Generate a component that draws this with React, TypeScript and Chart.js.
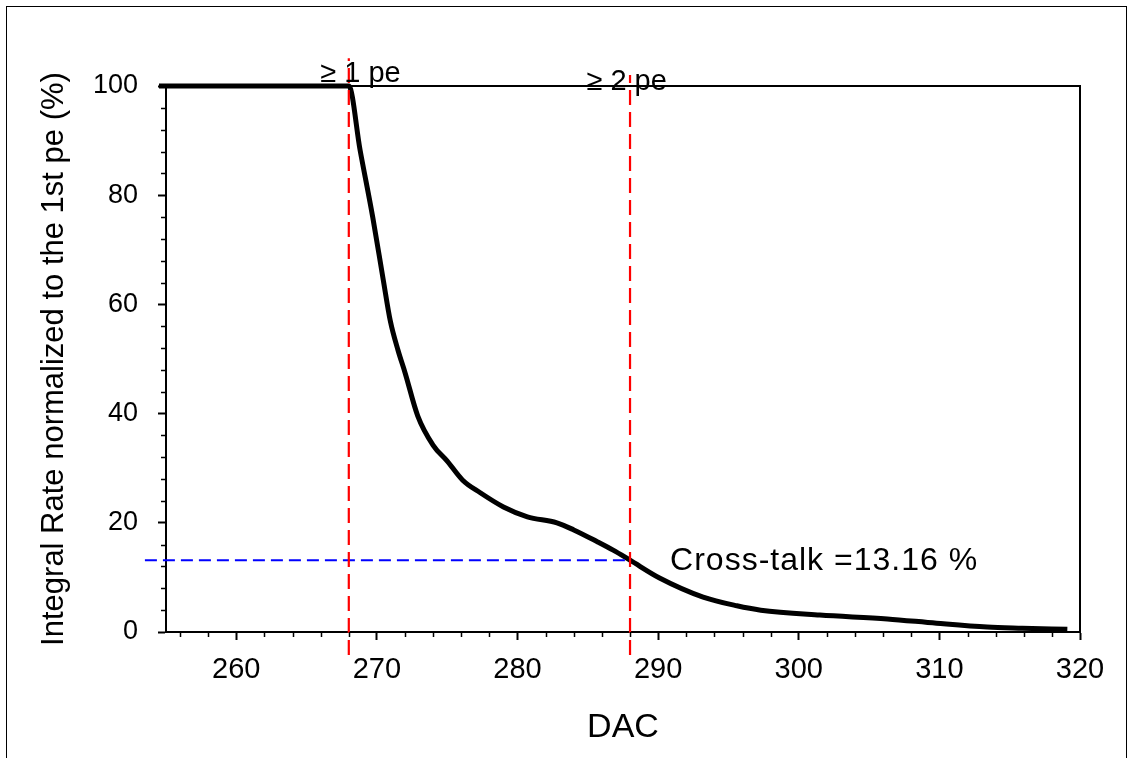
import React, { useEffect, useRef } from "react";
import { Chart, registerables } from "chart.js";

Chart.register(...registerables);

// ---- data ----
const dacValues = [254.5, 268, 268.8, 269.7, 270.45, 270.95, 271.5, 272.0, 272.9, 274.0, 275.0, 276.1, 277.35, 279.0, 280.7, 282.8, 284.0, 285.7, 286.8, 288.0, 290.1, 293.2, 295.6, 297.3, 301.5, 306.3, 309.8, 313.4, 315.9, 319.1];
const rateValues = [100, 100, 88.3, 76.0, 64.5, 57.0, 51.6, 47.5, 39.6, 34.2, 31.3, 27.8, 25.5, 22.9, 21.1, 20.0, 18.7, 16.5, 15.0, 13.16, 9.9, 6.4, 4.8, 4.0, 3.1, 2.4, 1.6, 0.9, 0.7, 0.5];

const threshold1pe = 268;
const threshold2pe = 288;
const crossTalk = 13.16;
const redLine1Range = [-4.2, 105.1];
const redLine2Range = [-4.2, 102];
const blueLineStart = 253.5;

const xTickValues = [260, 270, 280, 290, 300, 310, 320];
const yTickValues = [0, 20, 40, 60, 80, 100];
const xRange = [255, 320];
const yRange = [0, 100];
const xMinorStep = 2;
const yMinorStep = 4;

const label1pe = "≥ 1 pe";
const label2pe = "≥ 2 pe";
const crossTalkLabel = "Cross-talk =13.16 %";
const xTitle = "DAC";
const yTitle = "Integral Rate normalized to the 1st pe (%)";

const FONT = "'Liberation Sans', Arial, sans-serif";

const decorPlugin = {
  id: "decor",
  afterDraw(chart: any) {
    const { ctx, chartArea: a, scales } = chart;
    const x = scales.x;
    const y = scales.y;
    ctx.save();
    ctx.strokeStyle = "#000";
    ctx.lineWidth = 2;
    ctx.beginPath();
    ctx.moveTo(a.left, a.top);
    ctx.lineTo(a.right, a.top);
    ctx.lineTo(a.right, a.bottom);
    ctx.stroke();

    ctx.lineWidth = 1.5;
    ctx.beginPath();
    for (let v = xRange[0] + 1; v < xRange[1]; v += xMinorStep) {
      if (xTickValues.includes(v)) continue;
      const px = Math.round(x.getPixelForValue(v)) + 0.5;
      ctx.moveTo(px, a.bottom);
      ctx.lineTo(px, a.bottom + 5);
    }
    for (let v = yRange[0] + yMinorStep; v < yRange[1]; v += yMinorStep) {
      if (yTickValues.includes(v)) continue;
      const py = Math.round(y.getPixelForValue(v)) + 0.5;
      ctx.moveTo(a.left, py);
      ctx.lineTo(a.left - 5, py);
    }
    ctx.stroke();

    ctx.fillStyle = "#000";
    ctx.textBaseline = "alphabetic";
    ctx.textAlign = "left";
    ctx.font = `29px ${FONT}`;
    ctx.fillText(label1pe, x.getPixelForValue(265.97), y.getPixelForValue(100.7));
    ctx.fillText(label2pe, x.getPixelForValue(284.9), y.getPixelForValue(99.3));
    ctx.font = `32px ${FONT}`;
    try { (ctx as any).letterSpacing = "1px"; } catch (e) {}
    ctx.fillText(crossTalkLabel, x.getPixelForValue(290.85), y.getPixelForValue(11.4));
    ctx.restore();
  },
};

export default function App() {
  const ref = useRef<HTMLCanvasElement | null>(null);

  useEffect(() => {
    if (!ref.current) return;
    const curve = dacValues.map((d, i) => ({ x: d, y: rateValues[i] }));
    const chart = new Chart(ref.current, {
      type: "line",
      data: {
        datasets: [
          {
            data: [
              { x: threshold1pe, y: redLine1Range[0] },
              { x: threshold1pe, y: redLine1Range[1] },
            ],
            borderColor: "#ff0000",
            borderWidth: 2.2,
            borderDash: [15, 7],
            pointRadius: 0,
            clip: false as any,
            order: 0,
          },
          {
            data: [
              { x: threshold2pe, y: redLine2Range[0] },
              { x: threshold2pe, y: redLine2Range[1] },
            ],
            borderColor: "#ff0000",
            borderWidth: 2.2,
            borderDash: [15, 7],
            pointRadius: 0,
            clip: false as any,
            order: 0,
          },
          {
            data: [
              { x: blueLineStart, y: crossTalk },
              { x: threshold2pe, y: crossTalk },
            ],
            borderColor: "#0000ff",
            borderWidth: 2,
            borderDash: [12, 6],
            pointRadius: 0,
            clip: false as any,
            order: 1,
          },
          {
            data: curve,
            borderColor: "#000",
            borderWidth: 5,
            pointRadius: 0,
            cubicInterpolationMode: "monotone",
            borderJoinStyle: "round",
            clip: false as any,
            order: 2,
          },
        ],
      },
      options: {
        animation: false,
        responsive: false,
        devicePixelRatio: 1,
        layout: { padding: { left: 0, top: 86, right: 53, bottom: 0 } },
        plugins: { legend: { display: false }, tooltip: { enabled: false } },
        scales: {
          x: {
            type: "linear",
            min: xRange[0],
            max: xRange[1],
            afterBuildTicks: (s: any) => {
              s.ticks = xTickValues.map((v) => ({ value: v }));
            },
            afterFit: (s: any) => {
              s.height = 126;
            },
            grid: {
              drawOnChartArea: false,
              drawTicks: true,
              tickLength: 8,
              tickColor: "#000",
              tickWidth: 2,
            },
            border: { display: true, color: "#000", width: 2 },
            ticks: {
              color: "#000",
              padding: 13,
              maxRotation: 0,
              font: { family: FONT, size: 29 },
            },
            title: {
              display: true,
              text: xTitle,
              color: "#000",
              font: { family: FONT, size: 34 },
              padding: { top: 0, bottom: 10 },
            },
          },
          y: {
            type: "linear",
            min: yRange[0],
            max: yRange[1],
            afterBuildTicks: (s: any) => {
              s.ticks = yTickValues.map((v) => ({ value: v }));
            },
            afterFit: (s: any) => {
              s.width = 166;
            },
            grid: {
              drawOnChartArea: false,
              drawTicks: true,
              tickLength: 8,
              tickColor: "#000",
              tickWidth: 2,
            },
            border: { display: true, color: "#000", width: 2 },
            ticks: {
              color: "#000",
              padding: 20,
              font: { family: FONT, size: 27 },
            },
            title: {
              display: true,
              text: yTitle,
              color: "#000",
              font: { family: FONT, size: 31 },
              padding: { top: 36, bottom: 0 },
            },
          },
        },
      },
      plugins: [decorPlugin],
    });
    return () => chart.destroy();
  }, []);

  return (
    <div
      style={{
        position: "fixed",
        left: 0,
        top: 0,
        width: 1133,
        height: 758,
        background: "#fff",
        overflow: "hidden",
      }}
    >
      <div
        style={{
          position: "absolute",
          left: 6,
          top: 6,
          width: 1121,
          height: 800,
          border: "1.5px solid #000",
          boxSizing: "border-box",
        }}
      />
      <canvas
        ref={ref}
        width={1133}
        height={758}
        style={{ position: "absolute", left: 0, top: 0, width: 1133, height: 758 }}
      />
    </div>
  );
}
